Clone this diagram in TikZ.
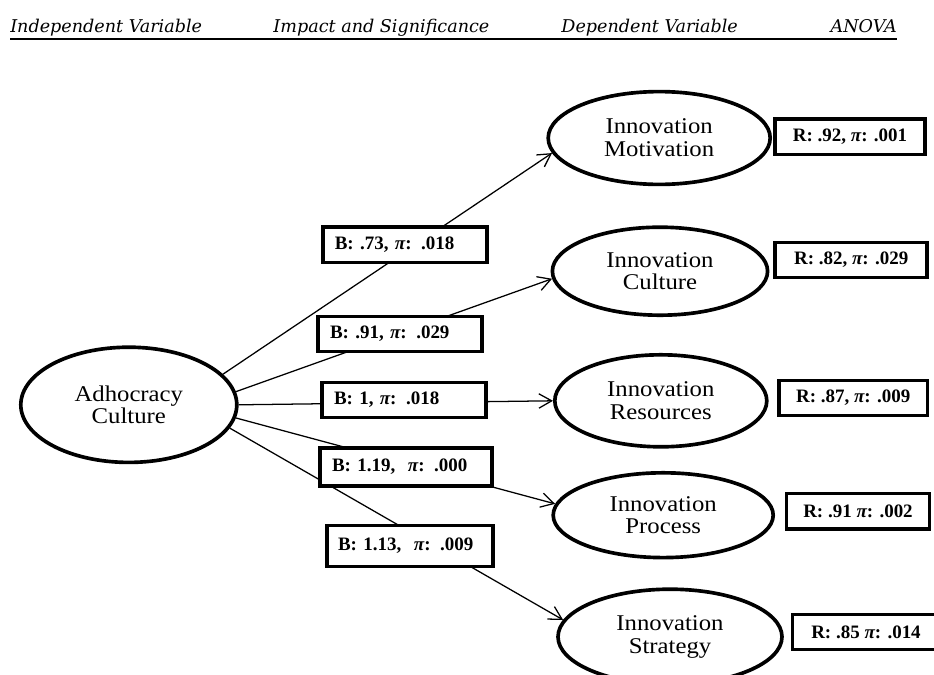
\documentclass[tikz,border=0pt]{standalone}
\usepackage{fontspec}
\setmainfont{Liberation Serif}
\newfontfamily\ellfont[FakeStretch=1.1]{Liberation Serif}
\newfontfamily\headfont{DejaVu Serif}
\usepackage{tikz}
\usetikzlibrary{shapes.geometric, arrows.meta, positioning}

\tikzset{
  varnode/.style={ellipse, draw=black, line width=2.6pt, fill=white,
    minimum width=5.45cm, minimum height=2.25cm, align=center,
    font=\ellfont\fontsize{16}{16.2}\selectfont},
  coefbox/.style={rectangle, draw=black, line width=2.6pt, fill=white,
    text width=3.5cm, align=left, inner xsep=0.3cm, minimum height=0.88cm,
    font=\bfseries\fontsize{13.5}{15}\selectfont},
  anovabox/.style={rectangle, draw=black, line width=2.6pt, fill=white,
    minimum width=3.75cm, minimum height=0.88cm,
    font=\bfseries\fontsize{13.5}{15}\selectfont},
  link/.style={-{Straight Barb[length=3.2mm, width=3.6mm]}, line width=0.9pt},
  colhead/.style={font=\headfont\itshape\fontsize{12.5}{14}\selectfont, inner sep=0pt}
}
\newcommand{\pii}{{\itshape π}}

\begin{document}
\begin{tikzpicture}
    \useasboundingbox (0,0) rectangle (23.35,-16.85);

    % --- column headings ---
    \node[colhead, anchor=base west] (hind) at (0.25,-0.8) {Independent Variable};
    \node[colhead, anchor=base west] (himp) at (6.83,-0.8) {Impact and Significance};
    \node[colhead, anchor=base west] (hdep) at (14.03,-0.8) {Dependent Variable};
    \node[colhead, anchor=base east] (hano) at (22.43,-0.8) {ANOVA};
    \draw[line width=1.4pt] (0.25,-0.98) -- (22.43,-0.98);

    % --- variables ---
    \node[varnode, minimum width=5.4cm, minimum height=2.88cm] (adh) at (3.22,-10.12) {Adhocracy\\Culture};
    \node[varnode, minimum width=5.55cm, minimum height=2.32cm] (mot) at (16.48,-3.45) {Innovation\\Motivation};
    \node[varnode, minimum width=5.38cm, minimum height=2.2cm] (cul) at (16.5,-6.78) {Innovation\\Culture};
    \node[varnode, minimum width=5.3cm, minimum height=2.3cm] (res) at (16.52,-10.02) {Innovation\\Resources};
    \node[varnode, minimum width=5.5cm, minimum height=2.12cm] (pro) at (16.58,-12.88) {Innovation\\Process};
    \node[varnode, minimum width=5.6cm, minimum height=2.38cm] (str) at (16.75,-15.92) {Innovation\\Strategy};

    % --- paths ---
    \draw[link] (adh.18) -- (mot.188);
    \draw[link] (adh.7) -- (cul.184);
    \draw[link] (adh.east) -- (res.west);
    \draw[link] (adh.353) -- (pro.174);
    \draw[link] (adh.347) -- (str.171);

    % --- impact and significance ---
    \node[coefbox] (b1) at (10.12,-6.12) {B: .73, \pii: .018};
    \node[coefbox] (b2) at (10.0,-8.35) {B: .91, \pii: .029};
    \node[coefbox] (b3) at (10.1,-10.0) {B: 1, \pii: .018};
    \node[coefbox, text width=3.7cm, minimum height=0.95cm] (b4) at (10.15,-11.67) {B: 1.19,\ \ \pii: .000};
    \node[coefbox, text width=3.6cm, inner xsep=0.28cm, minimum height=1.02cm] (b5) at (10.25,-13.65) {B: 1.13,\ \ \pii: .009};

    % --- anova ---
    \node[anovabox] (r1) at (21.25,-3.42) {R: .92, \pii: .001};
    \node[anovabox, minimum width=3.8cm] (r2) at (21.28,-6.5) {R: .82, \pii: .029};
    \node[anovabox, minimum width=3.72cm] (r3) at (21.33,-9.95) {R: .87, \pii: .009};
    \node[anovabox, minimum width=3.58cm] (r4) at (21.45,-12.78) {R: .91 \pii: .002};
    \node[anovabox, minimum width=3.68cm] (r5) at (21.65,-15.8) {R: .85 \pii: .014};
\end{tikzpicture}
\end{document}
